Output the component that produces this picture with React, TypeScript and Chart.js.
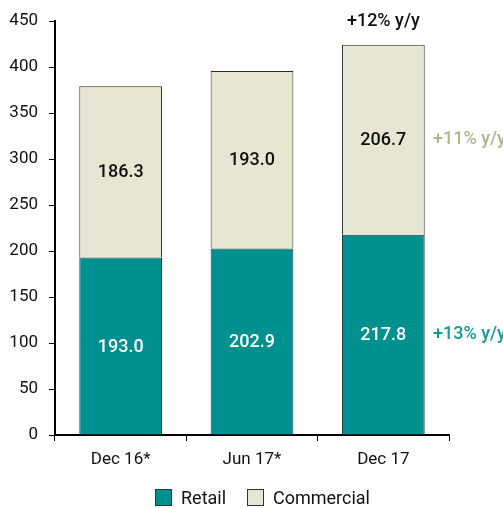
import React, { useEffect, useRef } from "react";
import { Chart, registerables } from "chart.js";

Chart.register(...registerables);

const categories = ["Dec 16*", "Jun 17*", "Dec 17"];
const retail = [193.0, 202.9, 217.8];
const commercial = [186.3, 193.0, 206.7];
const yTicks = [0, 50, 100, 150, 200, 250, 300, 350, 400, 450];
const seriesNames = ["Retail", "Commercial"];
const totalGrowth = "+12% y/y";
const commercialGrowth = "+11% y/y";
const retailGrowth = "+13% y/y";

const TEAL = "#00908F";
const BEIGE = "#E6E6D2";
const FONT = "Roboto, 'Liberation Sans', sans-serif";

const labelsPlugin = {
  id: "labelsPlugin",
  afterDatasetsDraw(chart: any) {
    const ctx = chart.ctx;
    ctx.save();
    ctx.textAlign = "center";
    ctx.textBaseline = "middle";
    chart.data.datasets.forEach((ds: any, di: number) => {
      const meta = chart.getDatasetMeta(di);
      meta.data.forEach((bar: any, i: number) => {
        const { x, y, base } = bar.getProps(["x", "y", "base"], true);
        ctx.fillStyle = di === 0 ? "#ffffff" : "#111111";
        ctx.font = `500 18px ${FONT}`;
        ctx.fillText(ds.data[i].toFixed(1), x, (y + base) / 2 + 1);
      });
    });
    const last = categories.length - 1;
    const topBar = chart.getDatasetMeta(1).data[last];
    const yScale = chart.scales.y;
    ctx.font = `500 18px ${FONT}`;
    ctx.fillStyle = "#111111";
    ctx.fillText(totalGrowth, topBar.x, yScale.getPixelForValue(retail[last] + commercial[last]) - 23);
    const xR = chart.chartArea.right - 16;
    ctx.textAlign = "left";
    ctx.fillStyle = "#B4B48A";
    ctx.fillText(commercialGrowth, xR, yScale.getPixelForValue(retail[last] + commercial[last] / 2));
    ctx.fillStyle = "#12999A";
    ctx.fillText(retailGrowth, xR, yScale.getPixelForValue(retail[last] / 2));

    // legend
    const colors = [TEAL, BEIGE];
    const ly = 498;
    const starts = [155, 247];
    ctx.font = `18px ${FONT}`;
    seriesNames.forEach((name, i) => {
      ctx.fillStyle = colors[i];
      ctx.fillRect(starts[i] + 0.5, ly - 8.5, 16, 16);
      ctx.strokeStyle = "#333";
      ctx.lineWidth = 1;
      ctx.strokeRect(starts[i] + 0.5, ly - 8.5, 16, 16);
      ctx.fillStyle = "#111";
      ctx.textAlign = "left";
      ctx.fillText(name, starts[i] + 26, ly + 1);
    });
    ctx.restore();
  },
};

export default function App() {
  const ref = useRef<HTMLCanvasElement>(null);
  useEffect(() => {
    document.body.style.margin = "0";
    const chart = new Chart(ref.current!, {
      type: "bar",
      data: {
        labels: categories,
        datasets: [
          {
            label: seriesNames[0],
            data: retail,
            backgroundColor: TEAL,
            borderColor: "#223333",
            borderWidth: 1,
            barPercentage: 0.63,
            categoryPercentage: 1,
          },
          {
            label: seriesNames[1],
            data: commercial,
            backgroundColor: BEIGE,
            borderColor: "#2a2a2a",
            borderWidth: 1,
            barPercentage: 0.63,
            categoryPercentage: 1,
          },
        ],
      },
      options: {
        animation: false,
        responsive: false,
        maintainAspectRatio: false,
        layout: { padding: { top: 10, right: 54, left: 0, bottom: 37 } },
        plugins: {
          tooltip: { enabled: false },
          legend: { display: false },
        },
        scales: {
          x: {
            stacked: true,
            grid: { display: true, drawOnChartArea: false, drawTicks: true, tickLength: 6, color: "#000", offset: true },
            border: { color: "#000", width: 2 },
            ticks: { color: "#111", font: { family: FONT, size: 17 }, padding: 9 },
            afterFit: (s: any) => { s.height = 36; },
          },
          y: {
            stacked: true,
            min: 0,
            max: 450,
            afterBuildTicks: (s: any) => { s.ticks = yTicks.map((v) => ({ value: v })); },
            grid: { display: true, drawOnChartArea: false, drawTicks: true, tickLength: 6, color: "#000" },
            border: { color: "#000", width: 2 },
            ticks: { color: "#111", font: { family: FONT, size: 17 }, padding: 11 },
            afterFit: (s: any) => { s.width = 55; },
          },
        },
      },
      plugins: [labelsPlugin],
    });
    return () => chart.destroy();
  }, []);
  return (
    <div style={{ position: "absolute", left: 0, top: 0, width: 503, height: 508 }}>
      <canvas ref={ref} width={503} height={508} style={{ width: 503, height: 508 }} />
    </div>
  );
}
